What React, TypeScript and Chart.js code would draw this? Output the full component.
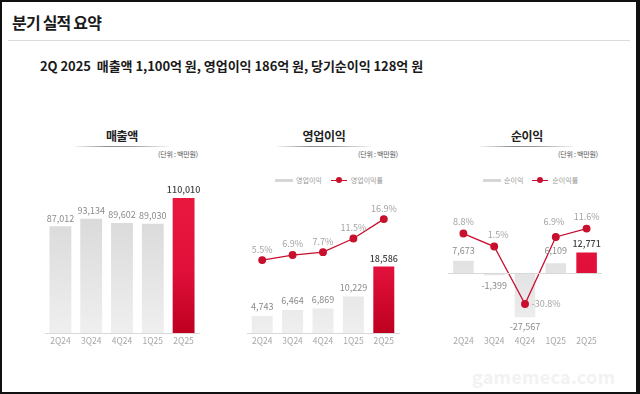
import React, { useEffect, useRef } from "react";
import { Chart, registerables } from "chart.js";

Chart.register(...registerables);

// ---------- data ----------
const quarters = ["2Q24", "3Q24", "4Q24", "1Q25", "2Q25"];
const revenue = [87012, 93134, 89602, 89030, 110010];
const opIncome = [4743, 6464, 6869, 10229, 18586];
const opMargin = [5.5, 6.9, 7.7, 11.5, 16.9];
const netIncome = [7673, -1399, -27567, 6109, 12771];
const netMargin = [8.8, 1.5, -30.8, 6.9, 11.6];

const FONT = "'Noto Sans CJK KR', 'Noto Sans', sans-serif";
const RED = "#c8102e";
const PAD = 12;

function barFill(ctx: any) {
  const chart = ctx.chart;
  const area = chart.chartArea;
  if (!area) return "#ddd";
  const last = ctx.dataIndex === quarters.length - 1;
  const g = chart.ctx.createLinearGradient(0, area.top, 0, area.bottom);
  if (last) {
    g.addColorStop(0, "#ec1a40");
    g.addColorStop(0.6, "#e0103a");
    g.addColorStop(1, "#be0020");
  } else {
    g.addColorStop(0, "#d2d2d2");
    g.addColorStop(1, "#efefef");
  }
  return g;
}

const fmtNum = (v: number) => (v < 0 ? "-" : "") + Math.abs(v).toLocaleString("en-US");
const fmtPct = (v: number) => v.toFixed(1) + "%";

const labelPlugin = {
  id: "valueLabels",
  afterDatasetsDraw(chart: any, _args: any, opts: any) {
    const ctx = chart.ctx;
    ctx.save();
    if (opts.zeroLine) {
      const y = Math.round(chart.scales.y.getPixelForValue(0)) + 0.5;
      ctx.strokeStyle = "#d8d8d8";
      ctx.lineWidth = 1;
      ctx.beginPath();
      ctx.moveTo(chart.chartArea.left, y);
      ctx.lineTo(chart.chartArea.right, y);
      ctx.stroke();
    }
    ctx.textAlign = "center";
    ctx.textBaseline = "middle";
    chart.data.datasets.forEach((ds: any, di: number) => {
      const meta = chart.getDatasetMeta(di);
      meta.data.forEach((el: any, i: number) => {
        const v = ds.data[i];
        if (meta.type === "bar") {
          const dy = opts.barDy ? opts.barDy[i] : v >= 0 ? -9 : 10;
          const last = i === ds.data.length - 1;
          ctx.font = `${last ? 500 : 400} 9px ${FONT}`;
          ctx.fillStyle = last ? "#444" : "#8a8a8a";
          ctx.fillText(fmtNum(v), el.x, el.y + dy);
        } else {
          const off = opts.lineOff ? opts.lineOff[i] : [0, -11];
          ctx.font = `400 9px ${FONT}`;
          ctx.fillStyle = "#a3a3a3";
          ctx.fillText(fmtPct(v), el.x + off[0], el.y + off[1]);
        }
      });
    });
    ctx.restore();
  },
};

function xScale(showBorder: boolean) {
  return {
    grid: { display: false, drawTicks: false },
    border: { display: showBorder, color: "#d9d9d9" },
    ticks: { color: "#a8a8a8", font: { size: 8.5, family: FONT }, padding: 3 },
    afterFit: (s: any) => {
      s.height = 16;
    },
  };
}

function useChart(build: () => any) {
  const ref = useRef<HTMLCanvasElement | null>(null);
  useEffect(() => {
    if (!ref.current) return;
    const chart = new Chart(ref.current, build());
    return () => chart.destroy();
  }, []);
  return ref;
}

const baseOptions = {
  animation: false,
  responsive: true,
  maintainAspectRatio: false,
  layout: { padding: { left: PAD, right: PAD, top: 0, bottom: 0 } },
  events: [],
};

function RevenueChart() {
  const ref = useChart(() => ({
    type: "bar",
    data: {
      labels: quarters,
      datasets: [
        {
          label: "매출액",
          data: revenue,
          backgroundColor: barFill,
          categoryPercentage: 1,
          barPercentage: 0.71,
        },
      ],
    },
    options: {
      ...baseOptions,
      plugins: { legend: { display: false }, tooltip: { enabled: false }, valueLabels: { barDy: [-8, -8, -8, -8, -8] } },
      scales: { x: xScale(true), y: { display: false, min: 0, max: 128750 } },
    },
    plugins: [labelPlugin],
  }));
  return <canvas ref={ref} />;
}

function OpChart() {
  const ref = useChart(() => ({
    type: "bar",
    data: {
      labels: quarters,
      datasets: [
        {
          type: "line",
          label: "영업이익률",
          data: opMargin,
          yAxisID: "y1",
          borderColor: RED,
          borderWidth: 1.3,
          pointBackgroundColor: RED,
          pointBorderColor: RED,
          pointRadius: 3.3,
          order: 0,
        },
        {
          label: "영업이익",
          data: opIncome,
          backgroundColor: barFill,
          categoryPercentage: 1,
          barPercentage: 0.69,
          order: 1,
        },
      ],
    },
    options: {
      ...baseOptions,
      plugins: {
        legend: { display: false },
        tooltip: { enabled: false },
        valueLabels: { barDy: [-9, -9, -9, -9, -8.5] },
      },
      scales: {
        x: xScale(true),
        y: { display: false, min: 0, max: 42750 },
        y1: { display: false, min: -14.78, max: 27.69 },
      },
    },
    plugins: [labelPlugin],
  }));
  return <canvas ref={ref} />;
}

function NetChart() {
  const ref = useChart(() => ({
    type: "bar",
    data: {
      labels: quarters,
      datasets: [
        {
          type: "line",
          label: "순이익률",
          data: netMargin,
          yAxisID: "y1",
          borderColor: RED,
          borderWidth: 1.3,
          pointBackgroundColor: RED,
          pointBorderColor: RED,
          pointRadius: 3.3,
          order: 0,
        },
        {
          label: "순이익",
          data: netIncome,
          backgroundColor: barFill,
          categoryPercentage: 1,
          barPercentage: 0.667,
          order: 1,
        },
      ],
    },
    options: {
      ...baseOptions,
      plugins: {
        legend: { display: false },
        tooltip: { enabled: false },
        valueLabels: {
          zeroLine: true,
          barDy: [-10, 10, 9.5, -13, -9],
          lineOff: [
            [0, -12],
            [4, -12],
            [21, 0],
            [-2, -15],
            [0, -12],
          ],
        },
      },
      scales: {
        x: xScale(false),
        y: { display: false, min: -37350, max: 57830 },
        y1: { display: false, min: -47.12, max: 38.75 },
      },
    },
    plugins: [labelPlugin],
  }));
  return <canvas ref={ref} />;
}

const abs = (l: number, t: number, extra: any = {}) => ({ position: "absolute" as const, left: l, top: t, ...extra });

function PanelHead({ title, cx, unitRight }: { title: string; cx: number; unitRight: number }) {
  return (
    <>
      <div
        style={abs(cx - 60, 126, {
          width: 120,
          textAlign: "center",
          fontSize: 12,
          fontWeight: 700,
          color: "#222",
          lineHeight: "16px",
          letterSpacing: "-0.3px",
        })}
      >
        {title}
      </div>
      <div
        style={abs(cx - 47, 144, {
          width: 94,
          height: 1,
          background: "linear-gradient(to right, rgba(150,150,150,0.1), #8a8a8a 35%, #9a9a9a 60%, rgba(200,200,200,0.2))",
        })}
      />
      <div
        style={abs(unitRight - 60, 148, {
          width: 60,
          textAlign: "right",
          fontSize: 7,
          color: "#555",
          lineHeight: "9px",
          letterSpacing: "-0.2px",
        })}
      >
        (단위 : 백만원)
      </div>
    </>
  );
}

function Legend({ left, barLabel, lineLabel }: { left: number; barLabel: string; lineLabel: string }) {
  return (
    <div style={abs(left, 173, { display: "flex", alignItems: "center", height: 10, fontSize: 7, color: "#9a9a9a", whiteSpace: "nowrap" })}>
      <span style={{ display: "inline-block", width: 18, height: 3, background: "#d6d6d6", marginRight: 3 }} />
      <span>{barLabel}</span>
      <span style={{ position: "relative", display: "inline-block", width: 16, height: 10, marginLeft: 9, marginRight: 4 }}>
        <span style={{ position: "absolute", left: 0, top: 4.5, width: 16, height: 1.2, background: RED }} />
        <span style={{ position: "absolute", left: 5, top: 2, width: 6, height: 6, borderRadius: 3, background: RED }} />
      </span>
      <span>{lineLabel}</span>
    </div>
  );
}

export default function App() {
  return (
    <div
      style={{
        position: "fixed",
        left: 0,
        top: 0,
        width: 640,
        height: 394,
        boxSizing: "border-box",
        borderStyle: "solid",
        borderColor: "#111",
        borderWidth: "2px 4px 2px 2px",
        background: "#fff",
        fontFamily: FONT,
        overflow: "hidden",
      }}
    >
      <div style={abs(10, 10, { fontSize: 16, fontWeight: 600, color: "#1a1a1a", letterSpacing: "-0.8px", lineHeight: "20px" })}>
        분기 실적 요약
      </div>
      <div style={abs(6, 38, { width: 622, height: 1, background: "#dcdcdc" })} />
      <div style={abs(38, 55, { fontSize: 13, fontWeight: 700, color: "#1a1a1a", letterSpacing: "-0.05px", lineHeight: "18px", whiteSpace: "nowrap" })}>
        2Q 2025&nbsp;&nbsp;매출액 1,100억 원, 영업이익 186억 원, 당기순이익 128억 원
      </div>

      <PanelHead title="매출액" cx={120} unitRight={196} />
      <PanelHead title="영업이익" cx={322} unitRight={396} />
      <PanelHead title="순이익" cx={525} unitRight={596} />

      <Legend left={273} barLabel="영업이익" lineLabel="영업이익률" />
      <Legend left={481} barLabel="순이익" lineLabel="순이익률" />

      <div style={abs(43 - PAD, 173, { width: 154 + 2 * PAD, height: 174 })}>
        <RevenueChart />
      </div>
      <div style={abs(245 - PAD, 173, { width: 152 + 2 * PAD, height: 174 })}>
        <OpChart />
      </div>
      <div style={abs(446 - PAD, 173, { width: 154 + 2 * PAD, height: 174 })}>
        <NetChart />
      </div>

      <div style={abs(470, 364, { fontSize: 18, fontWeight: 700, color: "#f2f2f2", letterSpacing: "0.3px", lineHeight: "20px" })}>gamemeca.com</div>
    </div>
  );
}
